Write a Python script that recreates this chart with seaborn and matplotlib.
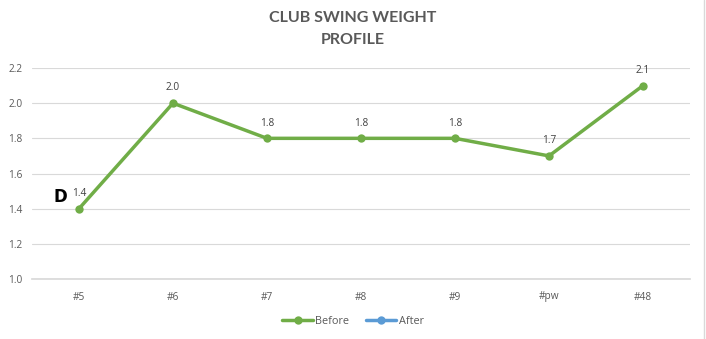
import matplotlib
matplotlib.use("Agg")
import matplotlib.pyplot as plt
import seaborn as sns
import numpy as np
import pandas as pd

clubs = ["#5", "#6", "#7", "#8", "#9", "#pw", "#48"]
before = [1.4, 2.0, 1.8, 1.8, 1.8, 1.7, 2.1]
after = [np.nan] * 7
yticks = [1.0, 1.2, 1.4, 1.6, 1.8, 2.0, 2.2]

sns.set_theme(style="white")
plt.rcParams["font.family"] = ["Open Sans", "DejaVu Sans"]

df = pd.DataFrame({"club": clubs * 2,
                   "value": before + after,
                   "series": ["Before"] * 7 + ["After"] * 7})

fig = plt.figure(figsize=(7.06, 3.39), dpi=100)
ax = fig.add_axes([32/706, 1 - 279/339, (690-32)/706, (279-68)/339])

green = "#70AD47"
blue = "#5B9BD5"
sns.lineplot(data=df, x="club", y="value", hue="series", palette={"Before": green, "After": blue},
             marker="o", markersize=6, markeredgewidth=0, linewidth=2.5, ax=ax, sort=False)

ax.set_xlim(-0.5, 6.5)
ax.set_ylim(1.0, 2.2)
ax.set_yticks(yticks)
ax.set_yticklabels([f"{v:.1f}" for v in yticks], color="#595959", fontsize=7.3)
ax.set_xticks(range(len(clubs)))
ax.set_xticklabels(clubs, color="#595959", fontsize=7.3)
ax.tick_params(axis="both", length=0)
ax.tick_params(axis="x", pad=9)
ax.tick_params(axis="y", pad=7)
ax.set_xlabel("")
ax.set_ylabel("")
ax.grid(axis="y", color="#D9D9D9", linewidth=0.8)
ax.set_axisbelow(True)
for s in ax.spines.values():
    s.set_visible(False)
ax.spines["bottom"].set_visible(True)
ax.spines["bottom"].set_color("#D9D9D9")

for i, v in enumerate(before):
    ax.annotate(f"{v:.1f}", (i, v), xytext=(0, 7), textcoords="offset points",
                ha="center", va="bottom", fontsize=7.3, color="#404040")

ax.text(-0.2, 1.465, "D", fontsize=12, fontweight="bold", color="black", ha="center", va="center",
        family=["DejaVu Sans"])

fig.text(0.5, 1 - 18/339, "CLUB SWING WEIGHT", ha="center", va="center",
         fontsize=11.5, fontweight="bold", color="#595959", family=["Lato", "DejaVu Sans"])
fig.text(0.5, 1 - 40.5/339, "PROFILE", ha="center", va="center",
         fontsize=11.5, fontweight="bold", color="#595959", family=["Lato", "DejaVu Sans"])

handles, labels = ax.get_legend_handles_labels()
ax.legend(handles, labels, loc="center", ncol=2, frameon=False, fontsize=7.8,
          handlelength=2.8, columnspacing=1.6, handletextpad=0.2, labelcolor="#595959")
ax.get_legend().set_bbox_to_anchor((0.5, 1 - 321/339), transform=fig.transFigure)

fig.add_artist(plt.Line2D([704/706, 704/706], [0, 1], color="#D9D9D9", linewidth=1, transform=fig.transFigure))

fig.savefig("out.png", dpi=100)
